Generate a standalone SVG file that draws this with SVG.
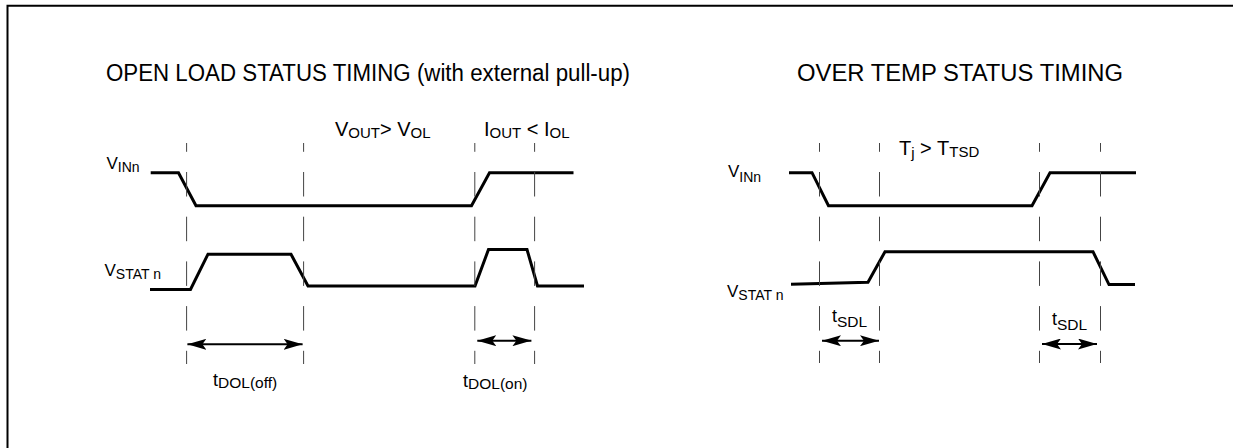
<svg xmlns="http://www.w3.org/2000/svg" width="1233" height="448" viewBox="0 0 1233 448">
<style>
.frame{fill:none;stroke:#000;stroke-width:2}
.sig{fill:none;stroke:#000;stroke-width:3;stroke-linejoin:miter}
.dash{fill:none;stroke:#444;stroke-width:1;stroke-dasharray:24.5 20.2;stroke-dashoffset:15.7}
.arr{fill:none;stroke:#000;stroke-width:2}
text{font-family:"Liberation Sans",Arial,sans-serif;fill:#000}
.title{font-size:23px}
.lbl{font-size:20px}
.sub{font-size:15px}
.sl{font-size:17px}
.ss{font-size:14px}
.tl{font-size:18px}
.ts{font-size:15.5px}
</style>
<defs>
<marker id="ah" markerUnits="userSpaceOnUse" markerWidth="19" markerHeight="11" refX="19" refY="5.5" orient="auto-start-reverse" viewBox="0 0 19 11">
<path d="M0,0 L19,5.5 L0,11 L4,5.5 z" fill="#000"/>
</marker>
</defs>
<rect width="1233" height="448" fill="#fff"/>
<path class="frame" d="M7.5,448 V5.8 H1233"/>

<g id="open-load">
<g id="ol-title"><text class="title" x="106" y="80.5" textLength="524" lengthAdjust="spacingAndGlyphs">OPEN LOAD STATUS TIMING (with external pull-up)</text></g>
<g id="ol-cond1"><text class="lbl" x="335" y="136">V<tspan class="sub" dy="1.5">OUT</tspan><tspan dy="-1.5">&gt; V</tspan><tspan class="sub" dy="1.5">OL</tspan></text></g>
<g id="ol-cond2"><text class="lbl" x="484" y="136">I<tspan class="sub" dy="1.5">OUT</tspan><tspan dy="-1.5"> &lt; I</tspan><tspan class="sub" dy="1.5">OL</tspan></text></g>
<g id="ol-vin-label"><text class="sl" x="106.5" y="168.5">V<tspan class="ss" dy="3.5">INn</tspan></text></g>
<g id="ol-vstat-label"><text class="sl" x="104.5" y="276">V<tspan class="ss" dy="3.3">STAT n</tspan></text></g>
<g id="ol-vin"><path class="sig" d="M150.7,172.7 H178.5 L196,205.7 H471.5 L489.5,172.7 H573.5"/></g>
<g id="ol-vstat"><path class="sig" d="M150,289.5 H190.5 L208,254.2 H291 L308,286 H475 L488.5,249.5 H527 L537.5,286 H584"/></g>
<g id="ol-dashes">
<path class="dash" d="M186.6,143 V364"/>
<path class="dash" d="M303.6,143 V364"/>
<path class="dash" d="M474.8,143 V364"/>
<path class="dash" d="M534.6,143 V364"/>
</g>
<g id="ol-toff"><path class="arr" d="M187.4,344.3 H302.6" marker-start="url(#ah)" marker-end="url(#ah)"/>
<text class="tl" x="213" y="386.3">t<tspan class="ts" dy="2">DOL(off)</tspan></text></g>
<g id="ol-ton"><path class="arr" d="M477.3,340.7 H531.4" marker-start="url(#ah)" marker-end="url(#ah)"/>
<text class="tl" x="463" y="386.7">t<tspan class="ts" dy="2.3">DOL(on)</tspan></text></g>
</g>

<g id="over-temp">
<g id="ot-title"><text class="title" x="797" y="80.5" textLength="326" lengthAdjust="spacingAndGlyphs">OVER TEMP STATUS TIMING</text></g>
<g id="ot-cond"><text class="lbl" x="899" y="155">T<tspan class="sub" dy="2.5">j</tspan><tspan dy="-2.5"> &gt; T</tspan><tspan class="sub" dy="1.5">TSD</tspan></text></g>
<g id="ot-vin-label"><text class="sl" x="728" y="177.3">V<tspan class="ss" font-size="14.5" dy="4.4">INn</tspan></text></g>
<g id="ot-vstat-label"><text class="sl" font-size="18.5" x="727" y="296.7">V<tspan class="ss" font-size="15.5" dy="3">STAT n</tspan></text></g>
<g id="ot-vin"><path class="sig" d="M789,172.7 H812 L828.5,205.7 H1032 L1050,172.7 H1136"/></g>
<g id="ot-vstat"><path class="sig" d="M791,284.3 L868,282.3 L885,251.7 H1093 L1109,284.6 H1135"/></g>
<g id="ot-dashes">
<path class="dash" d="M819.5,143 V363"/>
<path class="dash" d="M879.5,143 V363"/>
<path class="dash" d="M1039.5,143 V363"/>
<path class="dash" d="M1100.5,143 V363"/>
</g>
<g id="ot-tsdl1"><path class="arr" d="M822,340.7 H879" marker-start="url(#ah)" marker-end="url(#ah)"/>
<text class="tl" x="832" y="321.7">t<tspan class="ts" dy="5.6">SDL</tspan></text></g>
<g id="ot-tsdl2"><path class="arr" d="M1042,344 H1097" marker-start="url(#ah)" marker-end="url(#ah)"/>
<text class="tl" x="1052" y="325">t<tspan class="ts" dy="5">SDL</tspan></text></g>
</g>
</svg>
